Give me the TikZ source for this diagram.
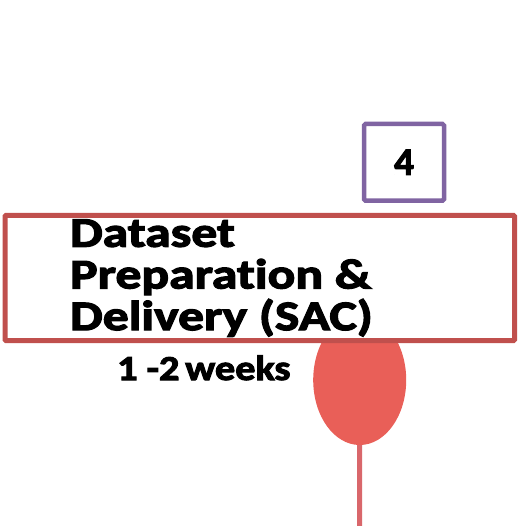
\documentclass[tikz,border=0pt]{standalone}
\usepackage{fontspec}
\setmainfont{Carlito}[Ligatures={NoCommon}, FakeBold=2.5]
\newfontfamily\widetitle{Carlito}[FakeStretch=1.23, FakeBold=3, Ligatures={NoCommon}]
\newfontfamily\widedur{Carlito}[FakeStretch=1.15, FakeBold=3, Ligatures={NoCommon}]
\usetikzlibrary{shapes.geometric}
\definecolor{boxred}{HTML}{C0504D}
\definecolor{boxpurple}{HTML}{8064A2}
\definecolor{pinfill}{HTML}{E95F58}
\definecolor{pinstem}{HTML}{D9676B}
\tikzset{
  stagebox/.style={draw=boxred, line width=5pt, fill=white, rounded corners=1pt},
  numbox/.style={draw=boxpurple, line width=4.5pt, fill=white, rounded corners=1.5pt,
    minimum width=80pt, minimum height=76.7pt, inner sep=0pt,
    font=\bfseries\fontsize{39}{39}\selectfont},
  titletext/.style={inner sep=0pt, align=left, anchor=base west,
    font=\widetitle\bfseries\fontsize{42}{41.7}\selectfont},
  durtext/.style={inner sep=0pt, anchor=base west,
    font=\widedur\bfseries\fontsize{35}{35}\selectfont},
  pinhead/.style={ellipse, fill=pinfill, minimum width=93pt, minimum height=130pt, inner sep=0pt},
  pinline/.style={draw=pinstem, line width=5pt}
}
\begin{document}
\begin{tikzpicture}[x=1pt, y=-1pt]
  \useasboundingbox (0,0) rectangle (518,526);
  % timeline marker, its top tucked under the stage box
  \node[pinhead] (head) at (359.7,380) {};
  \coordinate (foot) at (359.5,526);
  \draw[pinline] (head.south) -- (foot);
  % stage box
  \draw[stagebox] (5,215.5) rectangle (514.5,340.5);
  \node[titletext] (title) at (70,330.1) {Dataset\\Preparation \&\\Delivery (SAC)};
  % stage number
  \node[numbox] (num) at (404,162.3) {4};
  % duration
  \node[durtext] (dur) at (117,380) {1 -2\,weeks};
\end{tikzpicture}
\end{document}
